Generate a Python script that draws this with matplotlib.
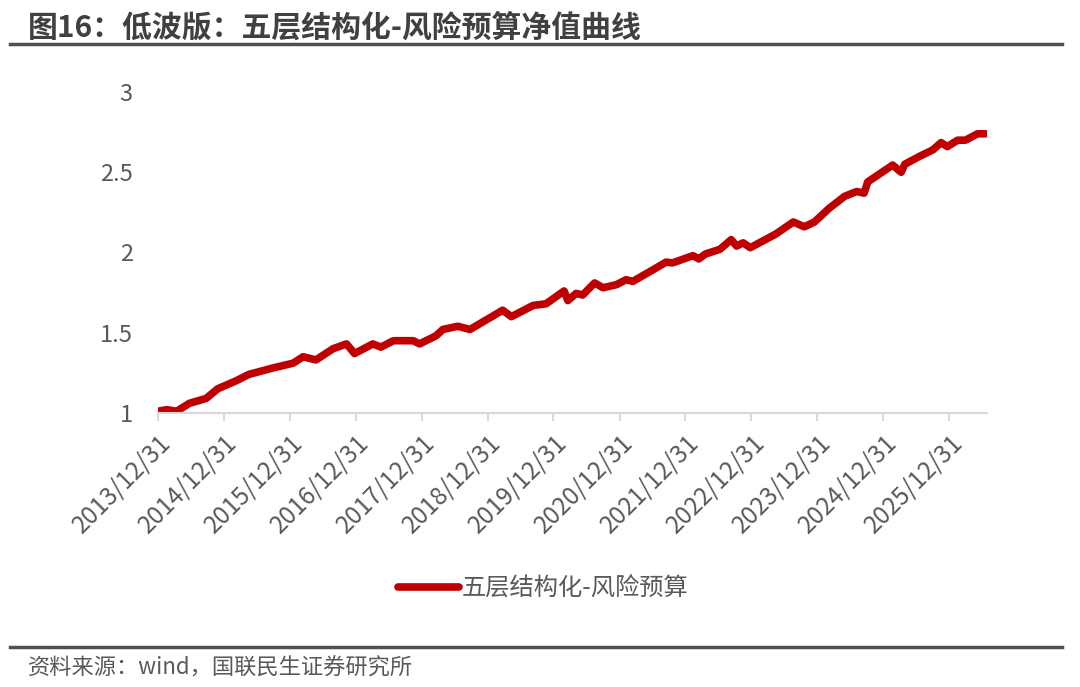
import numpy as np
import pandas as pd
import matplotlib
matplotlib.use("Agg")
import matplotlib.pyplot as plt
import matplotlib.dates as mdates

plt.rcParams['font.family'] = ['Noto Sans CJK SC', 'DejaVu Sans']

# net value curve
dates = ['2013-12-31', '2014-02-20', '2014-04-15', '2014-06-25', '2014-09-25',
         '2014-11-28', '2015-03-10', '2015-05-20', '2015-09-30', '2016-01-20',
         '2016-03-15', '2016-05-25', '2016-08-28', '2016-11-10', '2016-12-25',
         '2017-04-05', '2017-05-20', '2017-07-28', '2017-11-15', '2017-12-20',
         '2018-03-20', '2018-04-28', '2018-07-20', '2018-09-25', '2019-03-25',
         '2019-05-12', '2019-09-10', '2019-11-20', '2020-02-28', '2020-03-20',
         '2020-05-05', '2020-06-10', '2020-08-15', '2020-10-01', '2020-12-15',
         '2021-02-05', '2021-03-15', '2021-07-01', '2021-09-15', '2021-10-20',
         '2022-02-10', '2022-03-15', '2022-04-20', '2022-07-10', '2022-09-10',
         '2022-10-10', '2022-11-15', '2022-12-25', '2023-03-01', '2023-05-15',
         '2023-08-20', '2023-10-20', '2023-12-15', '2024-03-05', '2024-05-30',
         '2024-08-05', '2024-09-15', '2024-10-05', '2024-12-10', '2025-02-20',
         '2025-04-08', '2025-04-28', '2025-07-20', '2025-10-01', '2025-11-15',
         '2025-12-20', '2026-02-15', '2026-03-30', '2026-06-05', '2026-07-20']
values = [1.01, 1.02, 1.01, 1.06, 1.09, 1.15, 1.20, 1.24, 1.28, 1.31,
          1.35, 1.33, 1.40, 1.43, 1.37, 1.43, 1.41, 1.45, 1.45, 1.43,
          1.48, 1.52, 1.54, 1.52, 1.64, 1.60, 1.67, 1.68, 1.76, 1.70,
          1.745, 1.735, 1.81, 1.78, 1.80, 1.83, 1.82, 1.89, 1.94, 1.935,
          1.98, 1.96, 1.99, 2.02, 2.08, 2.04, 2.06, 2.03, 2.07, 2.115,
          2.19, 2.16, 2.19, 2.275, 2.35, 2.38, 2.37, 2.44, 2.49, 2.545,
          2.50, 2.55, 2.60, 2.64, 2.685, 2.66, 2.70, 2.70, 2.74, 2.74]
tick_dates = ['%d-12-31' % y for y in range(2013, 2026)]
tick_labels = ['%d/12/31' % y for y in range(2013, 2026)]
y_ticks = [1, 1.5, 2, 2.5, 3]
y_labels = ['1', '1.5', '2', '2.5', '3']
series_name = '五层结构化-风险预算'

title = '图16：低波版：五层结构化-风险预算净值曲线'
source = '资料来源：wind，国联民生证券研究所'

x = pd.to_datetime(dates)
fig = plt.figure(figsize=(10.8, 6.87), dpi=100)
ax = fig.add_axes([0.146, 0.399, 0.768, 0.467])

ax.plot(x, values, color='#C00000', linewidth=5.5, solid_capstyle='round',
        label=series_name)

ax.set_xlim(pd.Timestamp('2013-12-31'), pd.Timestamp('2026-07-28'))
ax.set_ylim(1, 3)
ax.set_xticks(pd.to_datetime(tick_dates))
ax.set_xticklabels(tick_labels, rotation=45, ha='right', rotation_mode='anchor',
                   fontsize=17.5, color='#595959')
ax.set_yticks(y_ticks)
ax.set_yticklabels(y_labels, fontsize=17, color='#595959')

for s in ['top', 'right', 'left']:
    ax.spines[s].set_visible(False)
ax.spines['bottom'].set_color('#d9d9d9')
ax.spines['bottom'].set_linewidth(1.5)
ax.tick_params(axis='x', length=6, width=1.5, color='#d9d9d9', pad=6)
ax.tick_params(axis='y', length=0, pad=18)

# legend below the chart
fig.legend(loc='center', bbox_to_anchor=(0.503, 0.143), frameon=False,
           fontsize=17.5, labelcolor='#595959', handlelength=2.5,
           handletextpad=0.1)

# title, rules and source
fig.text(0.026, 0.960, title, fontsize=21.5, fontweight='bold',
         color='#404040', va='center', ha='left')
fig.add_artist(plt.Line2D([0.009, 0.983], [0.936, 0.936], color='#505050',
                          linewidth=2.5))
fig.add_artist(plt.Line2D([0.009, 0.983], [0.058, 0.058], color='#505050',
                          linewidth=2.5))
fig.text(0.026, 0.027, source, fontsize=16, color='#595959',
         va='center', ha='left')

fig.savefig('out.png', dpi=100)
